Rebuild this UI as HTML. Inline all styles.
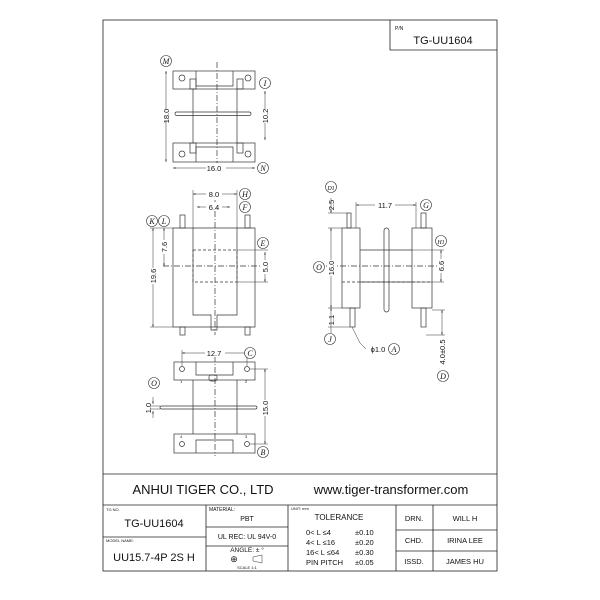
<!DOCTYPE html>
<html><head><style>
html,body{margin:0;padding:0;background:#fff;}
svg{display:block;}
text{font-family:"Liberation Sans",sans-serif;fill:#111;}
.c text{font-family:"Liberation Serif",serif;font-style:italic;font-size:8px;}
</style></head><body>
<svg width="600" height="600" viewBox="0 0 600 600" xmlns="http://www.w3.org/2000/svg">
<defs>
<marker id="a" markerWidth="6" markerHeight="6" refX="5" refY="3" orient="auto-start-reverse"><path d="M0,1.5 L5,3 L0,4.5" fill="#222"/></marker>
</defs>
<g fill="none" stroke="#222" stroke-width="0.8">
<!-- frame -->
<rect x="103" y="20" width="394" height="551"/>
<path d="M390,20 V50 H497"/>
<line x1="103" y1="474" x2="497" y2="474"/>
<line x1="103" y1="505" x2="497" y2="505"/>
<line x1="206" y1="505" x2="206" y2="571"/>
<line x1="288" y1="505" x2="288" y2="571"/>
<line x1="396" y1="505" x2="396" y2="571"/>
<line x1="433" y1="505" x2="433" y2="571"/>
<line x1="103" y1="537" x2="206" y2="537"/>
<line x1="206" y1="527" x2="288" y2="527"/>
<line x1="206" y1="546" x2="288" y2="546"/>
<line x1="396" y1="530" x2="497" y2="530"/>
<line x1="396" y1="551" x2="497" y2="551"/>
</g>
<g fill="none" stroke="#333" stroke-width="0.7">
<!-- top view -->
<rect x="173" y="71" width="82" height="18"/>
<rect x="173" y="143" width="82" height="19"/>
<path d="M196,71 V86 H233 V71 M196,162 V147 H233 V162"/>
<rect x="190" y="79" width="6" height="10"/><rect x="237" y="79" width="6" height="10"/>
<rect x="190" y="143" width="6" height="10"/><rect x="237" y="143" width="6" height="10"/>
<circle cx="182" cy="78" r="3"/><circle cx="248" cy="78" r="3"/>
<circle cx="182" cy="154" r="3"/><circle cx="248" cy="154" r="3"/>
<line x1="193" y1="89" x2="193" y2="143"/><line x1="237" y1="89" x2="237" y2="143"/>
<rect x="175" y="112" width="76" height="3.5" rx="1.7"/>
<line x1="217" y1="62" x2="217" y2="168" stroke-dasharray="6,2,1,2"/>
<!-- front view -->
<path d="M173,228 H255 V327 H173 Z"/>
<path d="M193,228 V315 H211 V330 H217 V315 H237 V228"/>
<rect x="180" y="215" width="5" height="13"/><rect x="245" y="215" width="5" height="13"/>
<rect x="180" y="327" width="5" height="8"/><rect x="245" y="327" width="5" height="8"/>
<rect x="193" y="250" width="44" height="32" stroke-dasharray="3,2"/>
<line x1="163" y1="266" x2="262" y2="266" stroke-dasharray="6,2,1,2"/>
<line x1="215" y1="200" x2="215" y2="335" stroke-dasharray="6,2,1,2"/>
<!-- side view -->
<rect x="342" y="228" width="18" height="80"/>
<rect x="412" y="228" width="20" height="80"/>
<rect x="347" y="213" width="4" height="15"/><rect x="421" y="213" width="5" height="15"/>
<rect x="350" y="308" width="5" height="19"/><rect x="421" y="308" width="5" height="19"/>
<rect x="384" y="228" width="5" height="84" rx="2.5"/>
<line x1="360" y1="250" x2="412" y2="250"/><line x1="360" y1="282" x2="412" y2="282"/>
<line x1="342" y1="282" x2="432" y2="282" stroke-dasharray="3,2"/>
<line x1="318" y1="266" x2="445" y2="266" stroke-dasharray="6,2,1,2"/>
<!-- bottom view -->
<rect x="174" y="362" width="81" height="18"/>
<rect x="174" y="434" width="81" height="19"/>
<path d="M196,362 V375 H233 V362 M196,453 V440 H233 V453"/>
<line x1="193" y1="380" x2="193" y2="434"/><line x1="237" y1="380" x2="237" y2="434"/>
<circle cx="182" cy="369" r="2.5"/><circle cx="247" cy="369" r="2.5"/>
<circle cx="182" cy="444" r="2.5"/><circle cx="247" cy="444" r="2.5"/>
<rect x="209" y="375" width="8" height="6" rx="2"/>
<rect x="160" y="406" width="97" height="3" rx="1.5"/>
<line x1="215" y1="356" x2="215" y2="456" stroke-dasharray="6,2,1,2"/>
</g>
<!-- dimensions -->
<g stroke="#333" stroke-width="0.5" fill="none">
<line x1="166" y1="71" x2="166" y2="162" marker-start="url(#a)" marker-end="url(#a)"/>
<line x1="265" y1="91" x2="265" y2="140" marker-start="url(#a)" marker-end="url(#a)"/>
<line x1="173" y1="168" x2="255" y2="168" marker-start="url(#a)" marker-end="url(#a)"/>
<line x1="193" y1="194" x2="237" y2="194" marker-start="url(#a)" marker-end="url(#a)"/>
<line x1="197" y1="207" x2="230" y2="207" marker-start="url(#a)" marker-end="url(#a)"/>
<line x1="193" y1="190" x2="193" y2="228"/><line x1="237" y1="190" x2="237" y2="228"/>
<line x1="153" y1="228" x2="153" y2="327" marker-start="url(#a)" marker-end="url(#a)"/>
<line x1="164" y1="228" x2="164" y2="266" marker-start="url(#a)" marker-end="url(#a)"/>
<line x1="265" y1="252" x2="265" y2="282" marker-start="url(#a)" marker-end="url(#a)"/>
<line x1="150" y1="228" x2="173" y2="228"/><line x1="150" y1="327" x2="173" y2="327"/>
<line x1="237" y1="250" x2="268" y2="250"/><line x1="237" y1="282" x2="268" y2="282"/>
<line x1="331" y1="198" x2="331" y2="213" marker-end="url(#a)"/>
<line x1="331" y1="228" x2="331" y2="308" marker-start="url(#a)" marker-end="url(#a)"/>
<line x1="331" y1="308" x2="331" y2="333" marker-start="url(#a)"/>
<line x1="328" y1="213" x2="347" y2="213"/><line x1="328" y1="228" x2="342" y2="228"/>
<line x1="328" y1="308" x2="342" y2="308"/><line x1="328" y1="327" x2="350" y2="327"/>
<line x1="356" y1="205" x2="416" y2="205" marker-start="url(#a)" marker-end="url(#a)"/>
<line x1="356" y1="202" x2="356" y2="228"/><line x1="416" y1="202" x2="416" y2="228"/>
<line x1="441" y1="250" x2="441" y2="282" marker-start="url(#a)" marker-end="url(#a)"/>
<line x1="412" y1="250" x2="444" y2="250"/><line x1="412" y1="282" x2="444" y2="282"/>
<line x1="442" y1="310" x2="442" y2="335" marker-start="url(#a)" marker-end="url(#a)"/>
<line x1="432" y1="310" x2="445" y2="310"/><line x1="426" y1="335" x2="445" y2="335"/>
<path d="M352,327 L360,343 L366,349"/>
<line x1="182" y1="353" x2="247" y2="353" marker-start="url(#a)" marker-end="url(#a)"/>
<line x1="182" y1="350" x2="182" y2="366"/><line x1="247" y1="350" x2="247" y2="366"/>
<line x1="265" y1="369" x2="265" y2="444" marker-start="url(#a)" marker-end="url(#a)"/>
<line x1="250" y1="369" x2="268" y2="369"/><line x1="250" y1="444" x2="268" y2="444"/>
<line x1="153" y1="397" x2="153" y2="404" marker-end="url(#a)"/>
<line x1="153" y1="418" x2="153" y2="411" marker-end="url(#a)"/>
<line x1="150" y1="406" x2="160" y2="406"/><line x1="150" y1="409" x2="160" y2="409"/>
</g>
<g font-size="7.5" text-anchor="middle">
<rect x="159" y="110" width="14" height="10" fill="#fff"/>
<text transform="translate(169,116) rotate(-90)">18.0</text>
<rect x="261" y="109" width="9" height="14" fill="#fff"/>
<text transform="translate(268,116) rotate(-90)">10.2</text>
<rect x="206" y="163" width="20" height="9" fill="#fff"/><text x="214" y="171">16.0</text>
<rect x="206" y="189" width="16" height="9" fill="#fff"/><text x="214" y="197">8.0</text>
<rect x="206" y="202" width="16" height="9" fill="#fff"/><text x="214" y="210">6.4</text>
<rect x="149" y="268" width="9" height="16" fill="#fff"/>
<text transform="translate(156,276) rotate(-90)">19.6</text>
<rect x="160" y="240" width="9" height="14" fill="#fff"/>
<text transform="translate(167,247) rotate(-90)">7.6</text>
<rect x="261" y="260" width="9" height="14" fill="#fff"/>
<text transform="translate(268,267) rotate(-90)">5.0</text>
<text transform="translate(334,205) rotate(-90)">2.5</text>
<rect x="327" y="260" width="9" height="16" fill="#fff"/>
<text transform="translate(334,268) rotate(-90)">16.0</text>
<text transform="translate(334,320) rotate(-90)">1.1</text>
<rect x="375" y="200" width="20" height="9" fill="#fff"/><text x="385" y="208">11.7</text>
<rect x="437" y="259" width="9" height="14" fill="#fff"/>
<text transform="translate(444,266) rotate(-90)">6.6</text>
<text transform="translate(445,352) rotate(-90)">4.0±0.5</text>
<text x="378" y="352">ϕ1.0</text>
<rect x="205" y="348" width="20" height="9" fill="#fff"/><text x="214" y="356">12.7</text>
<rect x="261" y="400" width="9" height="16" fill="#fff"/>
<text transform="translate(268,408) rotate(-90)">15.0</text>
<text transform="translate(151,408) rotate(-90)">1.0</text>
</g>
<g class="c" fill="#fff" stroke="#333" stroke-width="0.6" text-anchor="middle">
<circle cx="166" cy="61" r="5.5"/><circle cx="265" cy="83" r="5.5"/><circle cx="263" cy="168" r="5.5"/>
<circle cx="245" cy="194" r="5.5"/><circle cx="245" cy="207" r="5.5"/>
<circle cx="152" cy="221" r="5.5"/><circle cx="164" cy="221" r="5.5"/><circle cx="263" cy="243" r="5.5"/>
<circle cx="331" cy="187" r="5.5"/><circle cx="426" cy="205" r="5.5"/><circle cx="319" cy="267" r="5.5"/>
<circle cx="441" cy="241" r="5.5"/><circle cx="330" cy="339" r="5.5"/><circle cx="394" cy="349" r="5.5"/>
<circle cx="443" cy="376" r="5.5"/><circle cx="250" cy="353" r="5.5"/><circle cx="263" cy="452" r="5.5"/>
<circle cx="154" cy="383" r="5.5"/>
</g>
<g class="c" text-anchor="middle">
<text x="166" y="64">M</text><text x="265" y="86">I</text><text x="263" y="171">N</text>
<text x="245" y="197">H</text><text x="245" y="210">F</text>
<text x="152" y="224">K</text><text x="164" y="224">L</text><text x="263" y="246">E</text>
<text x="331" y="190" style="font-size:6px">D1</text><text x="426" y="208">G</text><text x="319" y="270">O</text>
<text x="441" y="244" style="font-size:6px">H1</text><text x="330" y="342">J</text><text x="394" y="352">A</text>
<text x="443" y="379">D</text><text x="250" y="356">C</text><text x="263" y="455">B</text>
<text x="154" y="386">O</text>
</g>
<g font-size="4">
<text x="180" y="383">1</text><text x="245" y="383">2</text><text x="180" y="438">4</text><text x="245" y="438">3</text>
</g>
<!-- title block text -->
<text x="395" y="30" font-size="5">P/N</text>
<text x="443" y="44" font-size="11" text-anchor="middle">TG-UU1604</text>
<text x="203" y="494" font-size="13" text-anchor="middle">ANHUI TIGER CO., LTD</text>
<text x="391" y="494" font-size="13" text-anchor="middle">www.tiger-transformer.com</text>
<text x="106" y="511" font-size="4">TG NO.</text>
<text x="154" y="527" font-size="11" text-anchor="middle">TG-UU1604</text>
<text x="106" y="542" font-size="4">MODEL NAME:</text>
<text x="154" y="561" font-size="11" text-anchor="middle">UU15.7-4P 2S H</text>
<text x="209" y="511" font-size="5">MATERIAL:</text>
<text x="247" y="521" font-size="7" text-anchor="middle">PBT</text>
<text x="247" y="539" font-size="7" text-anchor="middle">UL REC:  UL 94V-0</text>
<text x="247" y="552" font-size="6.5" text-anchor="middle">ANGLE:  ± °</text>
<text x="234" y="562" font-size="9" text-anchor="middle">⊕</text>
<path d="M253,557 L262,555 V563 L253,561 Z" fill="none" stroke="#333" stroke-width="0.5"/>
<text x="247" y="569" font-size="4" text-anchor="middle">SCALE 1:1</text>
<text x="291" y="510" font-size="4">UNIT:  mm</text>
<text x="339" y="520" font-size="8" text-anchor="middle">TOLERANCE</text>
<g font-size="7.5">
<text x="306" y="535">0&lt; L ≤4</text><text x="355" y="535">±0.10</text>
<text x="306" y="545">4&lt; L ≤16</text><text x="355" y="545">±0.20</text>
<text x="306" y="555">16&lt; L ≤64</text><text x="355" y="555">±0.30</text>
<text x="306" y="565">PIN PITCH</text><text x="355" y="565">±0.05</text>
</g>
<g font-size="7.5" text-anchor="middle">
<text x="414" y="521">DRN.</text><text x="465" y="521">WILL H</text>
<text x="414" y="543">CHD.</text><text x="465" y="543">IRINA LEE</text>
<text x="414" y="564">ISSD.</text><text x="465" y="564">JAMES HU</text>
</g>
</svg>
</body></html>
